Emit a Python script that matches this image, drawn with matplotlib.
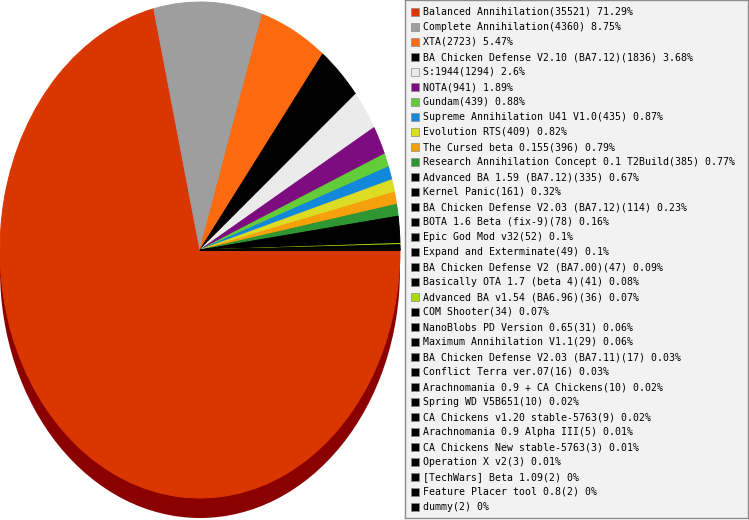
import matplotlib
matplotlib.use("Agg")
import matplotlib.pyplot as plt
from matplotlib.patches import Ellipse, Rectangle

# mods and number of games played
mods = [
    "Balanced Annihilation", "Complete Annihilation", "XTA",
    "BA Chicken Defense V2.10 (BA7.12)", "S:1944", "NOTA", "Gundam",
    "Supreme Annihilation U41 V1.0", "Evolution RTS", "The Cursed beta 0.155",
    "Research Annihilation Concept 0.1 T2Build", "Advanced BA 1.59 (BA7.12)",
    "Kernel Panic", "BA Chicken Defense V2.03 (BA7.12)", "BOTA 1.6 Beta (fix-9)",
    "Epic God Mod v32", "Expand and Exterminate", "BA Chicken Defense V2 (BA7.00)",
    "Basically OTA 1.7 (beta 4)", "Advanced BA v1.54 (BA6.96)", "COM Shooter",
    "NanoBlobs PD Version 0.65", "Maximum Annihilation V1.1",
    "BA Chicken Defense V2.03 (BA7.11)", "Conflict Terra ver.07",
    "Arachnomania 0.9 + CA Chickens", "Spring WD V5B651",
    "CA Chickens v1.20 stable-5763", "Arachnomania 0.9 Alpha III",
    "CA Chickens New stable-5763", "Operation X v2", "[TechWars] Beta 1.09",
    "Feature Placer tool 0.8", "dummy",
]
games = [35521, 4360, 2723, 1836, 1294, 941, 439, 435, 409, 396, 385, 335,
         161, 114, 78, 52, 49, 47, 41, 36, 34, 31, 29, 17, 16, 10, 10, 9, 5,
         3, 3, 2, 2, 2]
colors = ["#DA3600", "#9E9E9E", "#FE6A10", "#000000", "#EBEBEB", "#7D0C80",
          "#62CC39", "#1288DA", "#DCDC25", "#F7A00B", "#2E9633", "#000000",
          "#000000", "#000000", "#000000", "#000000", "#000000", "#000000",
          "#000000", "#A8DC00"] + ["#000000"] * 14

W, H = 749, 520
fig = plt.figure(figsize=(W / 100, H / 100), dpi=100)

# pie: face ellipse 400 px wide, ~248 px vertical radius, centre at y=250
ry = 248.0
ax = fig.add_axes([0, 0, 400 / W, 1])

# dark rim under the pie
ax.add_patch(Ellipse((0, -20 / ry), 2, 2, facecolor="#8B0000",
                     edgecolor="none", zorder=0))
wedges, _ = ax.pie(games, colors=colors, startangle=0, counterclock=False,
                   radius=1, center=(0, 0), frame=True,
                   wedgeprops=dict(linewidth=0.7))
for w in wedges:
    w.set_edgecolor(w.get_facecolor())
ax.set_xlim(-1, 1)
ax.set_ylim(-270 / ry, 250 / ry)
ax.set_aspect("auto")
ax.axis("off")

# legend box
lx, lw, lh = 405, 343, 518
lax = fig.add_axes([lx / W, (H - lh) / H, lw / W, lh / H])
lax.set_xlim(0, lw)
lax.set_ylim(lh, 0)
lax.set_facecolor("#F2F2F2")
lax.set_xticks([])
lax.set_yticks([])
for sp in lax.spines.values():
    sp.set_color("#8C8C8C")
    sp.set_linewidth(1.0)

total = sum(games)
for i, (name, n, c) in enumerate(zip(mods, games, colors)):
    y = 12 + i * 15
    pct = round(n / total * 100, 2)
    lax.add_patch(Rectangle((5.5, y - 4), 8, 8, facecolor=c,
                            edgecolor="#8C8C8C", linewidth=0.5))
    lax.text(17.5, y, f"{name}({n}) {pct:g}%", fontsize=7.15,
             family="DejaVu Sans Mono", va="center", ha="left", color="#000000")

fig.savefig("out.png", dpi=100)
